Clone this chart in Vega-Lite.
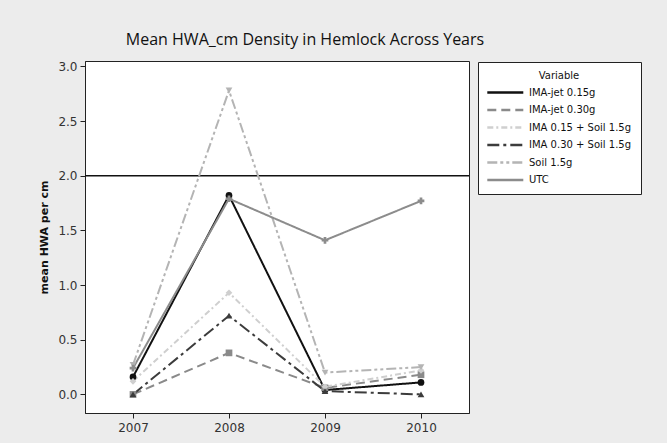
{
  "$schema": "https://vega.github.io/schema/vega-lite/v6.json",
  "width": 384,
  "height": 352,
  "autosize": {"type": "none"},
  "padding": {"left": 85, "top": 61, "right": 198, "bottom": 30},
  "background": "#ececec",
  "title": {"text": "Mean HWA_cm Density in Hemlock Across Years", "font": "Open Sans", "fontSize": 16, "fontWeight": "normal", "color": "#111111", "anchor": "middle", "dx": 28, "offset": 12},
  "config": {
    "view": {"stroke": "#222222", "strokeWidth": 1, "fill": "#ffffff"},
    "axis": {"labelFont": "DejaVu Sans", "labelFontSize": 12, "labelColor": "#333333", "domainColor": "#222222", "tickColor": "#222222", "grid": false, "tickSize": 5, "titleFont": "DejaVu Sans", "titleFontSize": 11, "titleFontWeight": "bold", "titleColor": "#111111"},
    "legend": {"orient": "none", "legendX": 393, "legendY": 1, "symbolType": "M-1.2,0H4.8", "symbolSize": 144, "symbolStrokeWidth": 2.5, "labelFont": "DejaVu Sans", "labelFontSize": 10, "labelColor": "#111111", "titleFont": "DejaVu Sans", "titleFontSize": 10, "titleFontWeight": "normal", "titleColor": "#111111", "titleAnchor": "middle", "titlePadding": 4, "rowPadding": 4.5, "padding": 9, "labelOffset": 27, "strokeColor": "#222222", "fillColor": "#ffffff", "labelLimit": 200}
  },
  "resolve": {"legend": {"color": "independent", "shape": "independent", "strokeDash": "independent"}},
  "data": {"values": [
    {"Variable": "IMA-jet 0.15g", "year": 2007, "value": 0.16},
    {"Variable": "IMA-jet 0.15g", "year": 2008, "value": 1.82},
    {"Variable": "IMA-jet 0.15g", "year": 2009, "value": 0.04},
    {"Variable": "IMA-jet 0.15g", "year": 2010, "value": 0.11},
    {"Variable": "IMA-jet 0.30g", "year": 2007, "value": 0.0},
    {"Variable": "IMA-jet 0.30g", "year": 2008, "value": 0.38},
    {"Variable": "IMA-jet 0.30g", "year": 2009, "value": 0.06},
    {"Variable": "IMA-jet 0.30g", "year": 2010, "value": 0.18},
    {"Variable": "IMA 0.15 + Soil 1.5g", "year": 2007, "value": 0.12},
    {"Variable": "IMA 0.15 + Soil 1.5g", "year": 2008, "value": 0.93},
    {"Variable": "IMA 0.15 + Soil 1.5g", "year": 2009, "value": 0.07},
    {"Variable": "IMA 0.15 + Soil 1.5g", "year": 2010, "value": 0.22},
    {"Variable": "IMA 0.30 + Soil 1.5g", "year": 2007, "value": 0.0},
    {"Variable": "IMA 0.30 + Soil 1.5g", "year": 2008, "value": 0.72},
    {"Variable": "IMA 0.30 + Soil 1.5g", "year": 2009, "value": 0.03},
    {"Variable": "IMA 0.30 + Soil 1.5g", "year": 2010, "value": 0.0},
    {"Variable": "Soil 1.5g", "year": 2007, "value": 0.27},
    {"Variable": "Soil 1.5g", "year": 2008, "value": 2.78},
    {"Variable": "Soil 1.5g", "year": 2009, "value": 0.2},
    {"Variable": "Soil 1.5g", "year": 2010, "value": 0.25},
    {"Variable": "UTC", "year": 2007, "value": 0.24},
    {"Variable": "UTC", "year": 2008, "value": 1.79},
    {"Variable": "UTC", "year": 2009, "value": 1.41},
    {"Variable": "UTC", "year": 2010, "value": 1.77}
  ]},
  "layer": [
    {
      "mark": {"type": "rule", "color": "#111111", "strokeWidth": 1.5},
      "data": {"values": [{"ref": 2}]},
      "encoding": {"y": {"field": "ref", "type": "quantitative"}}
    },
    {
      "mark": {"type": "line", "strokeWidth": 2},
      "encoding": {
        "x": {"field": "year", "type": "quantitative", "scale": {"domain": [2006.5, 2010.5], "nice": false, "zero": false}, "axis": {"values": [2007, 2008, 2009, 2010], "format": "d", "title": null, "labelPadding": 4}},
        "y": {"field": "value", "type": "quantitative", "scale": {"domain": [-0.17, 3.05], "nice": false, "zero": false}, "axis": {"values": [0, 0.5, 1, 1.5, 2, 2.5, 3], "format": ".1f", "title": "mean HWA per cm", "titlePadding": 8, "labelPadding": 3}},
        "color": {"field": "Variable", "type": "nominal", "title": "Variable", "scale": {"domain": ["IMA-jet 0.15g", "IMA-jet 0.30g", "IMA 0.15 + Soil 1.5g", "IMA 0.30 + Soil 1.5g", "Soil 1.5g", "UTC"], "range": ["#111111", "#8a8a8a", "#cfcfcf", "#3c3c3c", "#b4b4b4", "#8c8c8c"]}},
        "strokeDash": {"field": "Variable", "type": "nominal", "title": "Variable", "scale": {"domain": ["IMA-jet 0.15g", "IMA-jet 0.30g", "IMA 0.15 + Soil 1.5g", "IMA 0.30 + Soil 1.5g", "Soil 1.5g", "UTC"], "range": [[1, 0], [9, 5], [6, 3, 2, 3], [12, 4, 3, 4], [10, 3, 3, 3, 3, 3], [1, 0]]}}
      }
    },
    {
      "mark": {"type": "point", "filled": true, "opacity": 1, "size": 45},
      "encoding": {
        "x": {"field": "year", "type": "quantitative"},
        "y": {"field": "value", "type": "quantitative"},
        "color": {"field": "Variable", "type": "nominal", "legend": null},
        "shape": {"field": "Variable", "type": "nominal", "scale": {"domain": ["IMA-jet 0.15g", "IMA-jet 0.30g", "IMA 0.15 + Soil 1.5g", "IMA 0.30 + Soil 1.5g", "Soil 1.5g", "UTC"], "range": ["circle", "square", "diamond", "triangle-up", "triangle-down", "cross"]}, "legend": null}
      }
    }
  ]
}
